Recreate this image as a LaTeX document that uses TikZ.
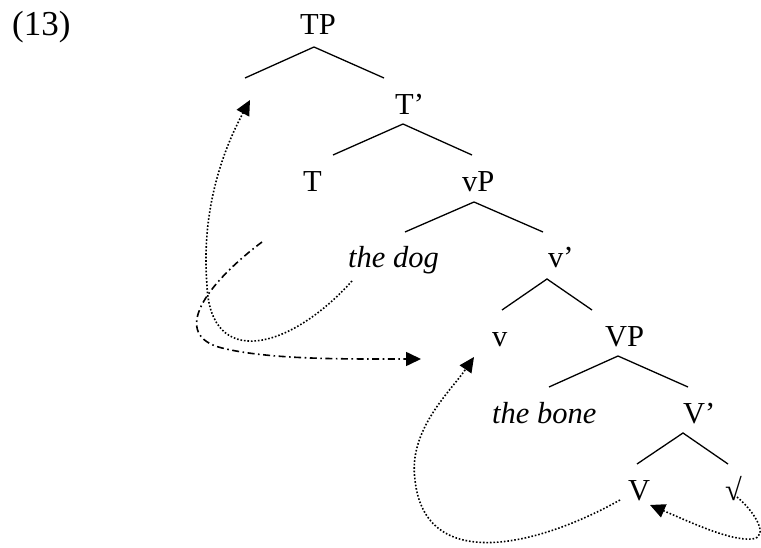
\documentclass[tikz,border=0pt]{standalone}
\usepackage{fontspec}
\setmainfont{Liberation Serif}
\usetikzlibrary{arrows.meta}
\begin{document}
\begin{tikzpicture}[x=1pt,y=-1pt,
  lbl/.style={anchor=base west,inner sep=0pt,font=\fontsize{30.5}{34}\selectfont},
  branch/.style={line width=1.3pt},
  dotarrow/.style={line width=1.6pt,dash pattern=on 1.6pt off 1.9pt,-{Triangle[length=15pt,width=14pt]}},
  dasharrow/.style={line width=1.6pt,dash pattern=on 7pt off 3.5pt on 1.6pt off 3.5pt,-{Triangle[length=15pt,width=14pt]}}]
\useasboundingbox (0,0) rectangle (761,548);
% labels
\node[lbl,font=\fontsize{35}{40}\selectfont] (ex) at (12,36) {(13)};
\node[lbl] (TP) at (300,35) {TP};
\node[lbl] (Tb) at (395,115) {T’};
\node[lbl] (T) at (303,192) {T};
\node[lbl] (vP) at (462,192) {vP};
\node[lbl] (dog) at (348,268) {\itshape the dog};
\node[lbl] (vb) at (548,268) {v’};
\node[lbl] (v) at (492,346) {v};
\node[lbl] (VP) at (605,347) {VP};
\node[lbl] (bone) at (492,423) {\itshape the bone};
\node[lbl] (Vb) at (683,423) {V’};
\node[lbl] (V) at (628,500) {V};
\node[lbl] (root) at (725,500) {√};
% branch points
\coordinate (a1) at (314,47); \coordinate (l1) at (245,78); \coordinate (r1) at (384,78);
\coordinate (a2) at (403,124); \coordinate (l2) at (333,155); \coordinate (r2) at (472,155);
\coordinate (a3) at (474,202); \coordinate (l3) at (405,232); \coordinate (r3) at (543,232);
\coordinate (a4) at (547,279); \coordinate (l4) at (502,310); \coordinate (r4) at (592,310);
\coordinate (a5) at (618,356); \coordinate (l5) at (549,387); \coordinate (r5) at (688,387);
\coordinate (a6) at (683,433); \coordinate (l6) at (637,464); \coordinate (r6) at (728,464);
\foreach \i in {1,...,6} {\draw[branch] (l\i) -- (a\i) -- (r\i);}
% arrow ends
\coordinate (s1) at (352,281); \coordinate (m1) at (207,285); \coordinate (e1) at (250,100);
\coordinate (s2) at (262,242); \coordinate (m2) at (222,348); \coordinate (e2) at (421,359);
\coordinate (s3) at (620,500); \coordinate (m3) at (415,480); \coordinate (e3) at (474,357);
\coordinate (s4) at (737,497); \coordinate (m4) at (752,539); \coordinate (e4) at (650,505);
\draw[dotarrow] (s1) .. controls (290,350) and (210,370) .. (m1) .. controls (202,225) and (215,165) .. (e1);
\draw[dasharrow] (s2) .. controls (205,285) and (170,335) .. (m2) .. controls (270,360) and (350,359) .. (e2);
\draw[dotarrow] (s3) .. controls (540,545) and (425,575) .. (m3) .. controls (408,430) and (450,392) .. (e3);
\draw[dotarrow] (s4) .. controls (755,512) and (770,537) .. (m4) .. controls (730,541) and (690,522) .. (e4);
\end{tikzpicture}
\end{document}
